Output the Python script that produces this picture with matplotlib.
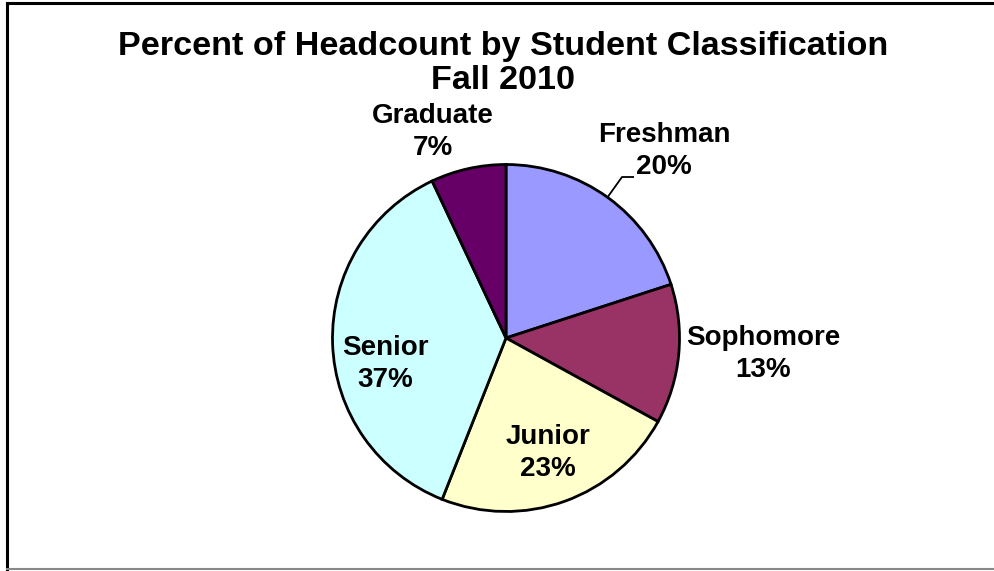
import matplotlib
matplotlib.use("Agg")
import matplotlib.pyplot as plt
from matplotlib.lines import Line2D

categories = ["Freshman", "Sophomore", "Junior", "Senior", "Graduate"]
percents = [20, 13, 23, 37, 7]
colors = ["#9999FF", "#993366", "#FFFFCC", "#CCFFFF", "#660066"]
title = "Percent of Headcount by Student Classification\nFall 2010"

plt.rcParams['font.family'] = ['Liberation Sans', 'DejaVu Sans']

W, H = 995, 571
fig = plt.figure(figsize=(W / 100, H / 100), dpi=100)
fig.patch.set_facecolor("white")

# Pie placement (pixel geometry)
cx, cy, R = 506, 338, 173.5
ax = fig.add_axes([(cx - R) / W, (H - cy - R) / H, 2 * R / W, 2 * R / H])
ax.set_xlim(-1, 1)
ax.set_ylim(-1, 1)
ax.set_aspect("equal")
ax.axis("off")

wedges, _ = ax.pie(percents, colors=colors, startangle=90, counterclock=False,
                   radius=1.0, center=(0, 0),
                   wedgeprops=dict(edgecolor="black", linewidth=2.0))
ax.set_xlim(-1, 1)
ax.set_ylim(-1, 1)

def px2d(px, py):
    return ((px - cx) / R, (cy - py) / R)

label_px = [(664, 151), (763, 354), (548, 453), (385, 364), (433, 132)]
for name, val, (px, py) in zip(categories, percents, label_px):
    x, y = px2d(px, py)
    ax.text(x, y, f"{name}\n{val}%", ha="center", va="center", fontsize=20,
            fontweight="bold", linespacing=1.3, clip_on=False)

# Leader line for Freshman
p0 = px2d(607, 198)
p1 = px2d(622, 177)
p2 = px2d(634, 177)
ax.plot([p0[0], p1[0], p2[0]], [p0[1], p1[1], p2[1]], color="black", lw=1.3,
        clip_on=False, solid_capstyle="butt")

fig.text(503 / W, 1 - 63.5 / H, title, ha="center", va="center", fontsize=24.6,
         fontweight="bold", linespacing=1.15)

# Border
fig.add_artist(Line2D([7 / W, 7 / W], [1 - 3 / H, 1 - 569 / H], color="black", lw=2.2,
                      transform=fig.transFigure))
fig.add_artist(Line2D([7 / W, 1.0], [1 - 3 / H, 1 - 3 / H], color="black", lw=2.2,
                      transform=fig.transFigure))
fig.add_artist(Line2D([7 / W, 1.0], [1 - 569 / H, 1 - 569 / H], color="#888888", lw=1.5,
                      transform=fig.transFigure))

fig.savefig("out.png", dpi=100, facecolor="white")
